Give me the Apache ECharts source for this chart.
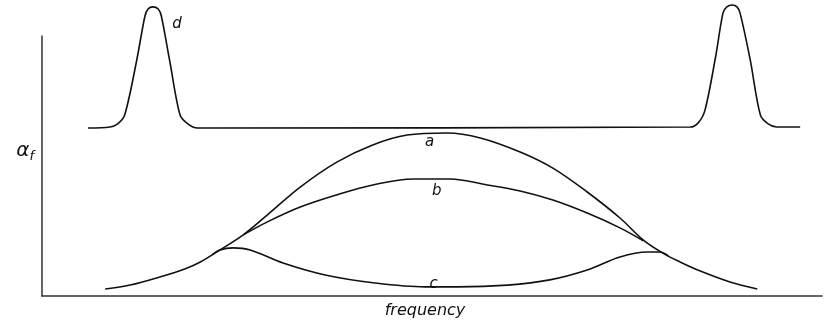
<!DOCTYPE html>
<html>
<head>
<meta charset="utf-8">
<script src="https://cdn.jsdelivr.net/npm/echarts@6/dist/echarts.min.js"></script>
<style>
  html, body { margin: 0; padding: 0; background: #fff; }
  #main { width: 825px; height: 324px; }
</style>
</head>
<body>
<div id="main"></div>
<script>
// frequency / amplitude pairs
var freqA = [8.1, 11.3, 15.1, 18.3, 20.3, 22.8, 25.8, 28.9, 33.1, 37.8, 42.4, 46.8, 51.9, 56.2, 61.3, 65.5, 69.9, 74.1, 77.1, 79.6, 81.8, 84.4, 88.2, 91.7];
var ampA  = [2.7, 4.2, 7.3, 10.4, 13.1, 17.7, 23.5, 31.2, 41.9, 51.5, 58.1, 61.9, 62.7, 60.8, 55.4, 49.2, 40.0, 30.0, 21.5, 16.5, 13.1, 9.6, 5.4, 2.7];

var freqB = [25.8, 28.9, 33.1, 37.8, 42.4, 47.6, 52.3, 57.1, 61.3, 65.5, 69.9, 74.1, 77.1];
var ampB  = [23.5, 28.5, 34.2, 38.9, 42.7, 45.0, 45.0, 42.7, 40.4, 36.9, 31.9, 26.2, 21.2];

var freqC = [21.8, 22.8, 24.5, 26.7, 30.9, 36.3, 42.7, 49.1, 53.3, 59.7, 65.1, 69.9, 74.1, 77.6, 79.2, 80.3];
var ampC  = [15.8, 17.7, 18.5, 17.7, 12.7, 8.1, 5.0, 3.5, 3.5, 4.2, 6.2, 10.0, 15.0, 16.9, 16.9, 15.4];

var freqD = [5.9, 8.7, 9.7, 10.6, 12.1, 13.2, 13.6, 14.2, 14.9, 15.3, 16.4, 17.7, 18.7, 19.9,
             83.1, 84.1, 85.0, 86.4, 87.3, 87.8, 88.5, 89.1, 89.5, 90.8, 92.1, 93.1, 94.2, 97.2];
var ampD  = [64.6, 65.0, 66.2, 69.6, 90.0, 107.7, 110.4, 111.2, 110.4, 107.7, 90.0, 69.6, 66.2, 64.6,
             65.0, 66.5, 71.5, 92.7, 108.8, 111.2, 111.9, 111.2, 108.8, 90.8, 69.6, 66.2, 65.0, 65.0];

// where the curve letters sit
var labelNames = ['a', 'b', 'c', 'd'];
var labelFreq  = [49.7, 50.6, 50.2, 17.3];
var labelAmp   = [59.0, 40.5, 4.6, 104.6];

function pairs(xs, ys) {
  return xs.map(function (x, i) { return [x, ys[i]]; });
}

var myChart = echarts.init(document.getElementById('main'));

var lineStyle = { color: '#111', width: 1.6 };
var handFont = { fontFamily: 'DejaVu Sans', fontStyle: 'italic', color: '#111' };

function curve(name, data, smooth) {
  return {
    name: name,
    type: 'line',
    data: data,
    smooth: smooth,
    showSymbol: false,
    clip: false,
    silent: true,
    lineStyle: lineStyle
  };
}

var series = [
  curve('a', pairs(freqA, ampA), 0.35),
  curve('b', pairs(freqB, ampB), 0.35),
  curve('c', pairs(freqC, ampC), 0.35),
  curve('d', pairs(freqD, ampD), 0.3)
];

var option = {
  animation: false,
  backgroundColor: '#fff',
  grid: { left: 42, right: 3, top: 36, bottom: 28, containLabel: false, outerBoundsMode: 'none' },
  xAxis: {
    type: 'value',
    min: 0,
    max: 100,
    name: 'frequency',
    nameLocation: 'middle',
    nameGap: 7,
    nameTextStyle: Object.assign({ fontSize: 16, padding: [0, 14, 0, 0] }, handFont),
    axisLine: { lineStyle: { color: '#333', width: 1.5 } },
    axisTick: { show: false },
    axisLabel: { show: false },
    splitLine: { show: false }
  },
  yAxis: {
    type: 'value',
    min: 0,
    max: 100,
    name: '{al|α}{sub|f}',
    nameLocation: 'middle',
    nameRotate: 0,
    nameGap: 8,
    nameTextStyle: {
      padding: [0, 0, 30, 0],
      rich: {
        al: { fontFamily: 'DejaVu Sans', fontStyle: 'italic', fontSize: 20, color: '#111' },
        sub: { fontFamily: 'DejaVu Sans', fontStyle: 'italic', fontSize: 13, color: '#111', verticalAlign: 'bottom', padding: [12, 0, 0, 0] }
      }
    },
    axisLine: { show: true, lineStyle: { color: '#333', width: 1.5 } },
    axisTick: { show: false },
    axisLabel: { show: false },
    splitLine: { show: false }
  },
  series: series
};

myChart.setOption(option);

// curve letters: placed through the axes (d sits above the axis range, so markPoint would drop it)
myChart.setOption({
  graphic: labelNames.map(function (n, i) {
    var p = myChart.convertToPixel({ gridIndex: 0 }, [labelFreq[i], labelAmp[i]]);
    return {
      type: 'text',
      x: p[0],
      y: p[1],
      silent: true,
      style: Object.assign({ text: n, fontSize: 15, align: 'center', verticalAlign: 'middle', fill: '#111' },
        { fontFamily: 'DejaVu Sans', fontStyle: 'italic' })
    };
  })
});
</script>
</body>
</html>
